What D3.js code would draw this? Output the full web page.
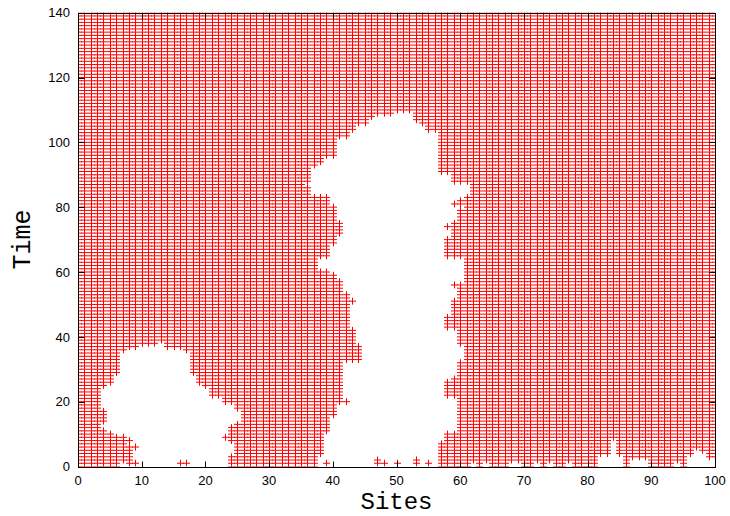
<!DOCTYPE html>
<html>
<head>
<meta charset="utf-8">
<script src="https://cdn.jsdelivr.net/npm/d3@7"></script>
<style>
html,body{margin:0;padding:0;background:#fff;}
svg{display:block;}
</style>
</head>
<body>
<svg id="chart" width="730" height="516"></svg>
<script>
// ---- data ----
const siteTicks = [0,10,20,30,40,50,60,70,80,90,100];
const timeTicks = [0,20,40,60,80,100,120,140];
const nSites = 100;   // sites 0..100
const nTimes = 140;   // time steps 0..140

// central empty region: for time t (index) the first and last empty site
const midFrom = [38,38,38,38,39,39,39,39,39,39,39,40,40,40,40,40,41,41,41,41,
                 43,42,42,42,42,42,42,42,42,42,42,42,42,45,45,45,45,45,44,44,
                 44,44,44,43,43,43,43,43,43,43,43,44,43,43,42,42,42,42,41,41,
                 40,38,38,38,38,40,40,40,40,41,41,41,42,42,42,42,41,41,41,41,
                 41,40,40,40,37,37,37,36,37,37,37,37,37,38,39,39,41,41,41,41,
                 41,41,43,43,44,44,46,46,47,50];
const midTo   = [56,56,56,56,56,56,56,56,57,57,57,59,59,59,59,59,59,59,59,59,
                 59,59,57,57,57,57,57,58,59,59,59,59,59,60,60,60,60,60,59,59,
                 59,59,59,57,57,57,57,58,58,58,58,58,59,59,59,59,58,60,60,60,
                 60,60,60,60,60,57,57,57,57,57,57,58,58,58,57,58,59,59,59,59,
                 60,58,59,60,61,61,61,61,58,58,58,56,56,56,56,56,56,56,56,56,
                 56,56,56,56,54,54,53,52,52,52];
// left empty region
const blobFrom = [7,7,9,9,9,9,10,8,9,8,6,5,4,4,5,5,5,5,4,4,
                  4,4,4,4,4,5,6,6,6,7,7,7,7,7,7,7,8,10,13];
const blobTo   = [23,23,23,23,24,24,24,24,23,22,23,23,23,24,25,25,25,25,24,24,
                  22,22,20,20,20,19,18,18,18,17,17,17,17,17,17,17,16,13,13];
// small empty patches along the bottom: site and last empty time
const gapSites = [62,64,68,69,72,74,77,82,83,84,85,87,88,89,94,96,97,98,99,100];
const gapTop   = [ 1, 1, 1, 1, 1, 1, 1, 3, 3, 8, 3, 2, 2, 2, 1, 3, 5, 4, 2, 2];
// isolated occupied sites inside the empty regions
const straySites = [8,9,16,17,39,47,47,48,50,53,53,55];
const strayTimes = [1,1, 1, 1, 1, 1, 2, 1, 1, 1, 2, 1];

// ---- build occupied cells ----
const gapMap = new Map(gapSites.map((s,i)=>[s,gapTop[i]]));
const strayKey = new Set(straySites.map((s,i)=>s+"_"+strayTimes[i]));
function occupied(s,t){
  if (strayKey.has(s+"_"+t)) return true;
  if (t < midFrom.length && s >= midFrom[t] && s <= midTo[t]) return false;
  if (t < blobFrom.length && s >= blobFrom[t] && s <= blobTo[t]) return false;
  if (gapMap.has(s) && t <= gapMap.get(s)) return false;
  return true;
}
const cells = [];
for (let t = 0; t <= nTimes; t++) {
  for (let s = 0; s <= nSites; s++) {
    if (occupied(s,t)) cells.push({s, t});
  }
}

// ---- drawing ----
const svg = d3.select("#chart");
const L = 78, R = 715, T = 12.7, B = 466.5;
const x = d3.scaleLinear().domain([0,100]).range([L,R]);
const y = d3.scaleLinear().domain([0,140]).range([B,T]);

svg.append("defs").append("clipPath").attr("id","plotclip")
  .append("rect").attr("x",L).attr("y",T).attr("width",R-L).attr("height",B-T);

const arm = 3.5;
svg.append("g").attr("clip-path","url(#plotclip)")
  .selectAll("path").data(cells).join("path")
  .attr("d", d => {
    const px = Math.round(x(d.s)) + 0.5;
    const py = y(d.t);
    return `M${px-arm},${py}H${px+arm}M${px},${py-arm}V${py+arm}`;
  })
  .attr("fill","none")
  .attr("stroke","#ff0000")
  .attr("stroke-width",1);

// frame
const crisp = v => Math.round(v) + 0.5;
svg.append("rect")
  .attr("x",crisp(L)).attr("y",crisp(T))
  .attr("width",Math.round(R)-Math.round(L)).attr("height",Math.round(B)-Math.round(T))
  .attr("fill","none").attr("stroke","#000").attr("stroke-width",1);

// ticks (inward, mirrored)
const tk = 6;
const tg = svg.append("g").attr("stroke","#000").attr("stroke-width",1);
siteTicks.forEach(v=>{
  const px = crisp(x(v));
  tg.append("line").attr("x1",px).attr("x2",px).attr("y1",crisp(B)).attr("y2",crisp(B)-tk);
  tg.append("line").attr("x1",px).attr("x2",px).attr("y1",crisp(T)).attr("y2",crisp(T)+tk);
});
timeTicks.forEach(v=>{
  const py = crisp(y(v));
  tg.append("line").attr("x1",crisp(L)).attr("x2",crisp(L)+tk).attr("y1",py).attr("y2",py);
  tg.append("line").attr("x1",crisp(R)).attr("x2",crisp(R)-tk).attr("y1",py).attr("y2",py);
});

// tick labels
const lab = svg.append("g").attr("font-family","'Liberation Sans', Arial, sans-serif")
  .attr("font-size",13).attr("fill","#000");
siteTicks.forEach(v=>{
  lab.append("text").attr("x",x(v)).attr("y",B+18).attr("text-anchor","middle").text(v);
});
timeTicks.forEach(v=>{
  lab.append("text").attr("x",L-8).attr("y",y(v)).attr("dy","0.36em")
    .attr("text-anchor","end").text(v);
});

// axis titles
svg.append("text").attr("x",(L+R)/2).attr("y",509)
  .attr("text-anchor","middle")
  .attr("font-family","'Liberation Mono', 'Courier New', monospace")
  .attr("font-size",24).attr("fill","#000").text("Sites");
svg.append("text")
  .attr("transform",`translate(30,${(T+B)/2}) rotate(-90)`)
  .attr("text-anchor","middle")
  .attr("font-family","'Liberation Mono', 'Courier New', monospace")
  .attr("font-size",25).attr("fill","#000").text("Time");
</script>
</body>
</html>
